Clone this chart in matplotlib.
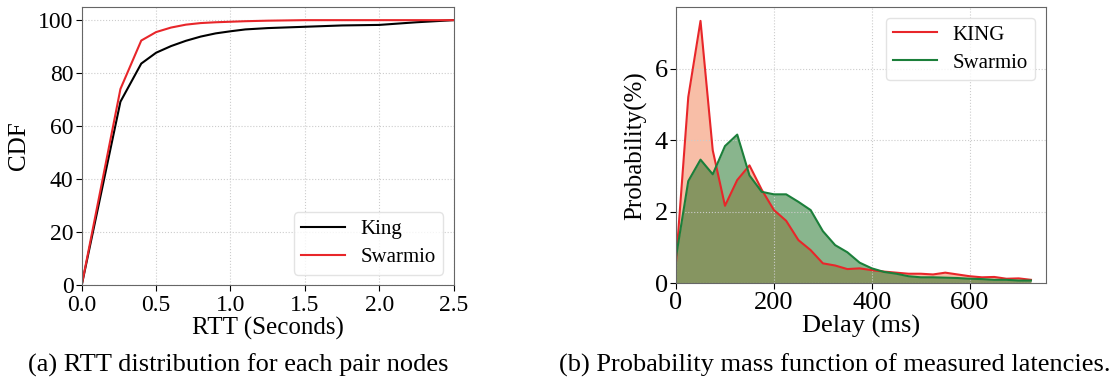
import numpy as np
import matplotlib
matplotlib.use('Agg')
import matplotlib.pyplot as plt

# (a) CDF of RTT
rtt_sec = [0.0, 0.26, 0.4, 0.5, 0.6, 0.7, 0.8, 0.9, 1.0, 1.1, 1.25, 1.5, 1.75, 2.0, 2.25, 2.5]
cdf_king = [0.0, 69.2, 83.6, 87.7, 90.2, 92.2, 93.8, 95.0, 95.8, 96.5, 97.0, 97.5, 98.0, 98.2, 99.2, 100.0]
cdf_swarmio = [0.0, 74.0, 92.3, 95.5, 97.2, 98.3, 98.9, 99.2, 99.4, 99.6, 99.8, 100.0, 100.0, 100.0, 100.0, 100.0]

# (b) PMF of measured latencies
delay_ms = [0, 25, 50, 75, 100, 125, 150, 175, 200, 225, 250, 275, 300, 325, 350,
            375, 400, 425, 450, 475, 500, 525, 550, 575, 600, 625, 650, 675, 700, 725]
pmf_king = [0.6, 5.21, 7.34, 3.72, 2.17, 2.89, 3.30, 2.62, 2.05, 1.75, 1.21, 0.93, 0.56, 0.50,
            0.40, 0.42, 0.37, 0.33, 0.30, 0.27, 0.27, 0.25, 0.30, 0.25, 0.20, 0.17, 0.18, 0.13, 0.14, 0.10]
pmf_swarmio = [0.74, 2.86, 3.46, 3.05, 3.84, 4.16, 3.02, 2.56, 2.49, 2.49, 2.28, 2.05, 1.46, 1.07,
               0.87, 0.58, 0.42, 0.32, 0.27, 0.20, 0.17, 0.17, 0.16, 0.15, 0.13, 0.12, 0.10, 0.10, 0.08, 0.08]

plt.rcParams['font.family'] = ['Liberation Serif', 'DejaVu Serif']

fig = plt.figure(figsize=(11.2, 3.84), dpi=100)
ax1 = fig.add_axes([0.073, 0.258, 0.332, 0.724])
ax2 = fig.add_axes([0.6036, 0.262, 0.330, 0.719])

spine_col = '#666666'
grid_kw = dict(color='#cccccc', linestyle=':', linewidth=0.8)
leg_kw = dict(fontsize=15, handlelength=2.1, handletextpad=0.75,
              borderpad=0.35, labelspacing=0.4, borderaxespad=0.5, edgecolor='#dddddd')

# left: CDF
ax1.plot(rtt_sec, cdf_king, color='black', lw=1.5, label='King')
ax1.plot(rtt_sec, cdf_swarmio, color='#e8262a', lw=1.5, label='Swarmio')
ax1.set_xlim(0, 2.5)
ax1.set_ylim(0, 105)
ax1.set_yticks([0, 20, 40, 60, 80, 100])
ax1.set_xticks([0.0, 0.5, 1.0, 1.5, 2.0, 2.5])
ax1.set_xlabel('RTT (Seconds)', fontsize=18, labelpad=1)
ax1.set_ylabel('CDF', fontsize=18, labelpad=6)
ax1.grid(True, **grid_kw)
ax1.tick_params(labelsize=17, direction='out', length=4, pad=2)
ax1.tick_params(axis='x', pad=3)
ax1.legend(loc='lower right', **leg_kw)
for s in ax1.spines.values():
    s.set_color(spine_col)

# right: PMF
ax2.fill_between(delay_ms, pmf_king, color='#f37f51', alpha=0.5, lw=0)
ax2.fill_between(delay_ms, pmf_swarmio, color='#156d1d', alpha=0.5, lw=0)
ax2.plot(delay_ms, pmf_king, color='#e8262a', lw=1.5, label='KING')
ax2.plot(delay_ms, pmf_swarmio, color='#1b7f3a', lw=1.5, label='Swarmio')
ax2.set_xlim(0, 755)
ax2.set_ylim(0, 7.72)
ax2.set_xticks([0, 200, 400, 600])
ax2.set_yticks([0, 2, 4, 6])
ax2.set_xlabel('Delay (ms)', fontsize=19, labelpad=1)
ax2.set_ylabel('Probability(%)', fontsize=18, labelpad=5)
ax2.grid(True, **grid_kw)
ax2.tick_params(labelsize=19, direction='out', length=4, pad=2)
ax2.legend(loc='upper right', **leg_kw)
for s in ax2.spines.values():
    s.set_color(spine_col)

fig.text(0.213, 0.05, '(a) RTT distribution for each pair nodes', ha='center', va='center', fontsize=19)
fig.text(0.745, 0.05, '(b) Probability mass function of measured latencies.', ha='center', va='center', fontsize=19)

fig.savefig('out.png', dpi=100)
